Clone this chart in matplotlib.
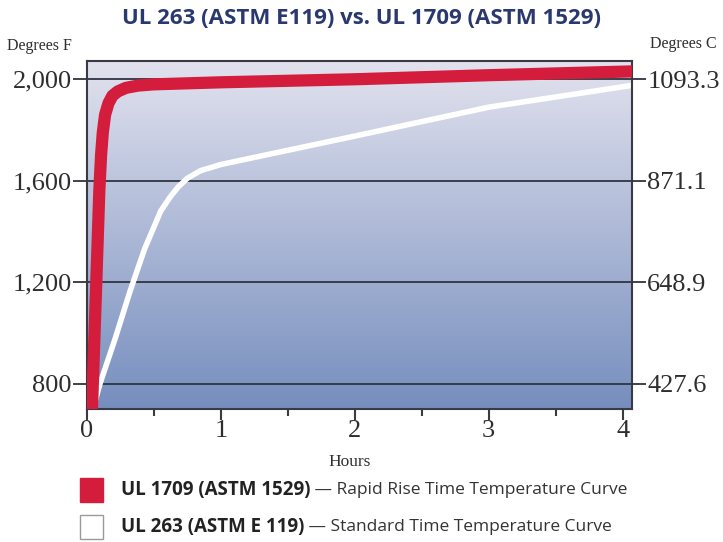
import numpy as np
import matplotlib
matplotlib.use("Agg")
import matplotlib.pyplot as plt
from matplotlib.patches import Rectangle
from matplotlib.ticker import FixedLocator

# ---- data ----
title = "UL 263 (ASTM E119) vs. UL 1709 (ASTM 1529)"
rapid_hours = [0.037, 0.067, 0.092, 0.105, 0.118, 0.135, 0.16, 0.19, 0.23, 0.29, 0.38, 0.5, 1.0, 2.0, 3.0, 4.07]
rapid_temp = [700, 1162, 1560, 1700, 1790, 1860, 1905, 1935, 1952, 1966, 1975, 1980, 1988, 2000, 2016, 2031]
std_hours = [0.045, 0.097, 0.21, 0.32, 0.43, 0.55, 0.62, 0.68, 0.75, 0.85, 1.0, 2.0, 3.0, 4.07]
std_temp = [700, 800, 977, 1162, 1331, 1480, 1535, 1575, 1610, 1640, 1664, 1776, 1890, 1976]
f_ticks = [800, 1200, 1600, 2000]
f_labels = ["800", "1,200", "1,600", "2,000"]
c_labels = ["427.6", "648.9", "871.1", "1093.3"]
hour_ticks = [0, 1, 2, 3, 4]
hour_minor = [0.5, 1.5, 2.5, 3.5]
legend_bold = ["UL 1709 (ASTM 1529)", "UL 263 (ASTM E 119)"]
legend_desc = [" \u2014 Rapid Rise Time Temperature Curve", " \u2014 Standard Time Temperature Curve"]

W, H = 723, 542
fig = plt.figure(figsize=(W / 100, H / 100), dpi=100)
fig.patch.set_facecolor("white")

x0, x1, ytop, ybot = 87, 632, 61, 409
ax = fig.add_axes([x0 / W, 1 - ybot / H, (x1 - x0) / W, (ybot - ytop) / H])
ax.set_xlim(0, 4.07)
ax.set_ylim(700, 2072)

# gradient background
top = np.array([226, 226, 238]) / 255
mid = np.array([172, 184, 214]) / 255
bot = np.array([118, 142, 190]) / 255
n = 256
tt = np.linspace(0, 1, n)[:, None]
grad = np.where(tt < 0.5, top + (mid - top) * (tt / 0.5), mid + (bot - mid) * ((tt - 0.5) / 0.5))
grad = grad[:, None, :]
ax.imshow(grad, extent=[0, 4.07, 700, 2072], aspect="auto", origin="upper", zorder=0)

serif = ["Liberation Serif", "DejaVu Serif"]
sans = ["Open Sans", "DejaVu Sans"]
textc = "#2e2e2e"
gridc = "#2f3440"

for v in f_ticks:
    ax.axhline(v, color=gridc, lw=1.3, zorder=1)

ax.plot(std_hours, std_temp, color="white", lw=4.0, solid_capstyle="butt", zorder=2)
ax.plot(rapid_hours, rapid_temp, color="#d41c3c", lw=8.8, solid_capstyle="butt",
        solid_joinstyle="round", zorder=3)

for s in ax.spines.values():
    s.set_color("#3a3a44")
    s.set_linewidth(1.5)

ax.yaxis.set_major_locator(FixedLocator(f_ticks))
ax.set_yticklabels(f_labels, fontfamily=serif, fontsize=19, color=textc)
ax.tick_params(axis="y", length=10, width=1.3, color=gridc, pad=1)

ax2 = ax.twinx()
ax2.set_ylim(ax.get_ylim())
ax2.yaxis.set_major_locator(FixedLocator(f_ticks))
ax2.set_yticklabels(c_labels, fontfamily=serif, fontsize=19, color=textc)
ax2.tick_params(axis="y", length=10, width=1.3, color=gridc, pad=1)
for s in ax2.spines.values():
    s.set_visible(False)

ax.xaxis.set_major_locator(FixedLocator(hour_ticks))
ax.xaxis.set_minor_locator(FixedLocator(hour_minor))
ax.set_xticklabels([str(h) for h in hour_ticks], fontfamily=serif, fontsize=19, color=textc)
ax.tick_params(axis="x", which="major", length=8, width=1.5, color="#3a3a44", pad=0)
ax.tick_params(axis="x", which="minor", length=5, width=1.5, color="#3a3a44")

fig.text(350 / W, 1 - 462 / H, "Hours", ha="center", va="center",
         fontfamily=serif, fontsize=12.5, color=textc)
fig.text(7 / W, 1 - 46 / H, "Degrees F", ha="left", va="center",
         fontfamily=serif, fontsize=11.5, color=textc)
fig.text(717 / W, 1 - 44 / H, "Degrees C", ha="right", va="center",
         fontfamily=serif, fontsize=11.5, color=textc)

fig.text(362 / W, 1 - 19 / H, title, ha="center", va="center",
         fontfamily=sans, fontweight="bold", fontsize=16,
         color="#2a3870")

# legend
box_colors = ["#d41c3c", "white"]
box_edges = ["#d41c3c", "#9a9a9a"]
rows_y = [490, 527]
for i in range(2):
    yc = rows_y[i]
    fig.patches.append(Rectangle((80 / W, 1 - (yc + 12) / H), 23 / W, 24 / H,
                                 transform=fig.transFigure, facecolor=box_colors[i],
                                 edgecolor=box_edges[i], lw=1.0))
    tb = fig.text(121 / W, 1 - yc / H, legend_bold[i], ha="left", va="center",
                  fontfamily=sans, fontweight="bold", fontsize=13.5, color="#222222")
    ax.annotate(legend_desc[i], xy=(1, 0.5), xycoords=tb, ha="left", va="center",
                fontfamily=sans, fontsize=12.5, color="#333333",
                annotation_clip=False)

fig.savefig("out.png", dpi=100, facecolor="white")
